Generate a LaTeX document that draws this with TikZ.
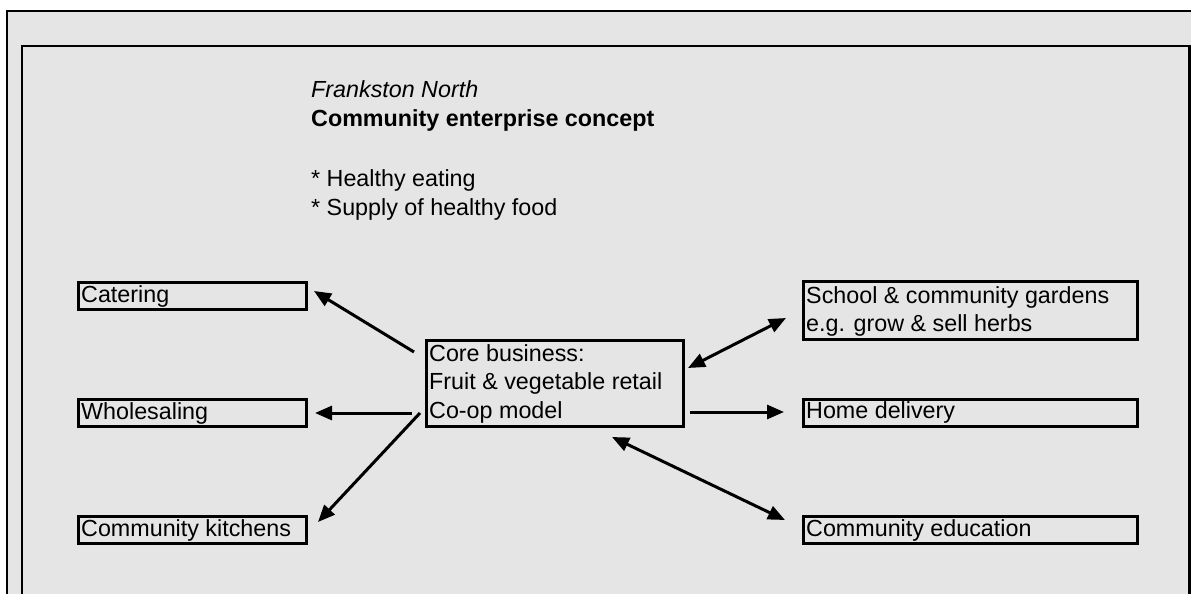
\documentclass[tikz,border=0pt]{standalone}
\usepackage{fontspec}
\setmainfont{Liberation Sans}
\usetikzlibrary{arrows.meta}
\definecolor{panel}{HTML}{E5E5E5}
\newcommand{\txtsize}{\fontsize{23.3}{28}\selectfont}
\begin{document}
\begin{tikzpicture}[x=1pt,y=-1pt,
  frame/.style={draw=black,line width=2.6pt,fill=panel},
  box/.style={draw=black,line width=3pt,inner sep=0pt,anchor=north west},
  lbl/.style={inner sep=0pt,anchor=base west,font=\txtsize},
  link/.style={line width=3pt,-{Triangle[length=17pt,width=14pt]}},
  twoway/.style={line width=3pt,{Triangle[length=17pt,width=14pt]}-{Triangle[length=17pt,width=14pt]}}]
\useasboundingbox (0,0) rectangle (1191,594);
\fill[white] (0,0) rectangle (1191,594);
% page frames
\begin{scope}
  \clip (0,0) rectangle (1191,594);
  \draw[frame] (7,11) rectangle (1230,650);
  \draw[frame] (22,46) rectangle (1189.5,650);
\end{scope}

% heading
\node[lbl,font=\txtsize\itshape] (place) at (311,97) {Frankston North};
\node[lbl,font=\txtsize\bfseries] (title) at (311,126.5) {Community enterprise concept};
\node[lbl] (aim1) at (311,186) {* Healthy eating};
\node[lbl] (aim2) at (311,215) {* Supply of healthy food};

% boxes
\node[box,minimum width=228pt,minimum height=27pt] (catering) at (76.5,280.5) {};
\node[box,minimum width=228pt,minimum height=27pt] (wholesale) at (76.5,397.5) {};
\node[box,minimum width=228pt,minimum height=27pt] (kitchens) at (76.5,514.5) {};
\node[box,minimum width=257pt,minimum height=86pt] (core) at (424.5,338.5) {};
\node[box,minimum width=334pt,minimum height=58pt] (gardens) at (801.5,279.5) {};
\node[box,minimum width=334pt,minimum height=27pt] (delivery) at (801.5,397.5) {};
\node[box,minimum width=334pt,minimum height=27pt] (education) at (801.5,514.5) {};

% box texts
\node[lbl] (tcatering) at (81,302) {Catering};
\node[lbl] (twholesale) at (81,419) {Wholesaling};
\node[lbl] (tkitchens) at (81,536.5) {Community kitchens};
\node[lbl] (tcore1) at (429,361.5) {Core business:};
\node[lbl] (tcore2) at (429,389.5) {Fruit \& vegetable retail};
\node[lbl] (tcore3) at (429,418) {Co-op model};
\node[lbl] (tgardens1) at (806,303) {School \& community gardens};
\node[lbl] (tgardens2) at (806,331.5) {e.g. grow \& sell herbs};
\node[lbl] (tdelivery) at (806,418.5) {Home delivery};
\node[lbl] (teducation) at (806,536.5) {Community education};

% connector ends
\coordinate (c-cat) at (414,352);
\coordinate (e-cat) at (314,291);
\coordinate (c-whl) at (412,413);
\coordinate (e-whl) at (315,413);
\coordinate (c-kit) at (420,413);
\coordinate (e-kit) at (318,522);
\coordinate (c-gar) at (688,368);
\coordinate (e-gar) at (786,318);
\coordinate (c-del) at (690,412);
\coordinate (e-del) at (784,412);
\coordinate (c-edu) at (612,437);
\coordinate (e-edu) at (785,520);

% connectors
\draw[link] (c-cat) -- (e-cat);
\draw[link] (c-whl) -- (e-whl);
\draw[link] (c-kit) -- (e-kit);
\draw[twoway] (c-gar) -- (e-gar);
\draw[link] (c-del) -- (e-del);
\draw[twoway] (c-edu) -- (e-edu);
\end{tikzpicture}
\end{document}
